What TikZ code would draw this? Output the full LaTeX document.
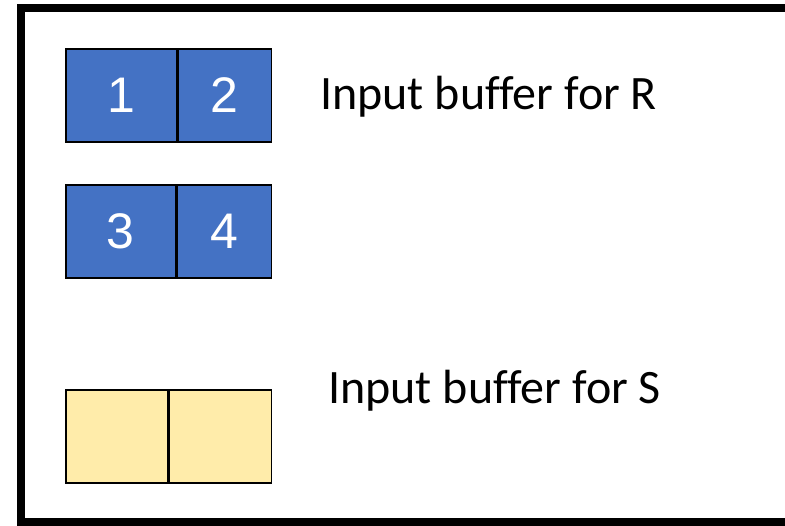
\documentclass[tikz,border=0pt]{standalone}
\usepackage{fontspec}
\setmainfont[Ligatures=NoCommon]{Carlito}
\newfontfamily\digitfont{Liberation Sans}
\usetikzlibrary{positioning}

\definecolor{pageblue}{HTML}{4472C4}
\definecolor{pageyellow}{HTML}{FFECAA}

\begin{document}
\begin{tikzpicture}[
  x=1pt, y=-1pt,
  cell/.style={draw, line width=1.6pt, inner sep=0pt, minimum height=93pt, anchor=north west},
  full/.style={cell, fill=pageblue, text=white, font=\digitfont\fontsize{50}{50}\selectfont},
  empty/.style={cell, fill=pageyellow},
  label/.style={anchor=base west, inner sep=0pt, font=\fontsize{48}{48}\selectfont}
]
\useasboundingbox (0,0) rectangle (785,526);
\clip (0,0) rectangle (785,526);

% outer frame, runs past the right edge
\draw[line width=8pt] (21,8) rectangle (800,522);

% buffer for R: pages 1..4
\node[full, minimum width=111pt] (p1) at (65,48) {1};
\node[full, minimum width=93pt, right=0pt of p1] (p2) {2};
\node[full, minimum width=110pt] (p3) at (65,184) {3};
\node[full, minimum width=94pt, right=0pt of p3] (p4) {4};

% buffer for S: still empty
\node[empty, minimum width=102pt] (s1) at (65,389) {};
\node[empty, minimum width=102pt, right=0pt of s1] (s2) {};

\node[label] (rlabel) at (320,110) {Input buffer for R};
\node[label] (slabel) at (328,404) {Input buffer for S};

\end{tikzpicture}
\end{document}
